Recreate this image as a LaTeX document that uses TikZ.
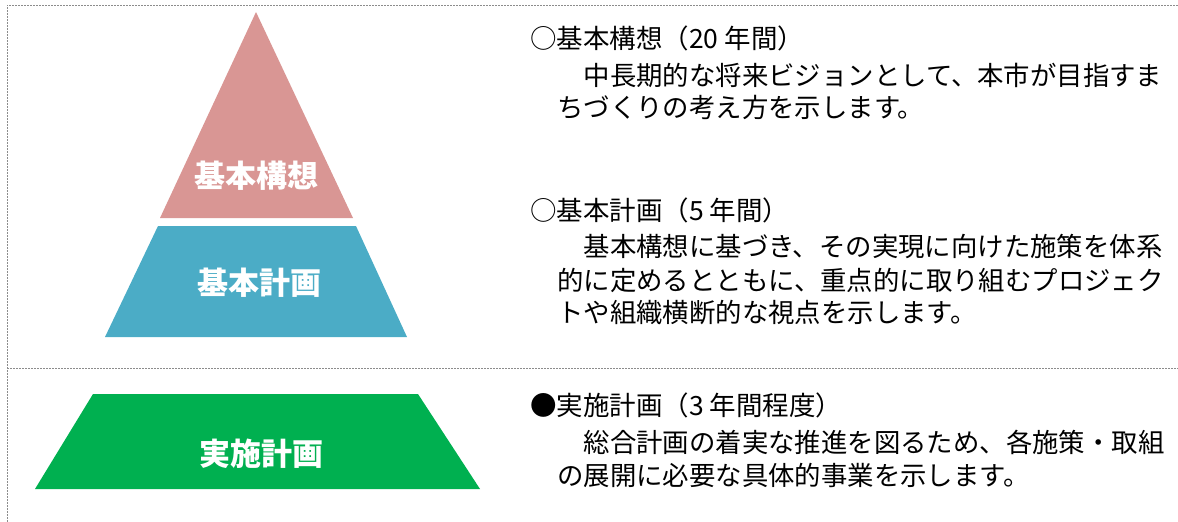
\documentclass[tikz,border=0pt]{standalone}
\usepackage{fontspec}
\setmainfont{Noto Sans CJK JP}
\definecolor{pinkc}{HTML}{D99694}
\definecolor{bluec}{HTML}{4BACC6}
\definecolor{greenc}{HTML}{00B050}
\definecolor{framec}{HTML}{8C8C8C}
\tikzset{
  head/.style={anchor=west, inner sep=0pt, font=\fontsize{26.5}{30}\selectfont},
  bodyline/.style={anchor=west, inner sep=0pt, font=\fontsize{26.4}{33}\selectfont},
  lbl/.style={text=white, inner sep=0pt, font=\bfseries\fontsize{31}{36}\selectfont},
  frameline/.style={draw=framec, line width=0.8pt, dash pattern=on 2pt off 1pt},
}
\begin{document}
\begin{tikzpicture}[x=1pt,y=-1pt]
\useasboundingbox (0,0) rectangle (1178,522);
% frame
\coordinate (tl) at (7,5);
\coordinate (tr) at (1178,5);
\coordinate (bl) at (7,522);
\coordinate (sl) at (7,368);
\coordinate (sr) at (1178,368);
\draw[frameline] (bl) -- (tl) -- (tr);
\draw[frameline] (sl) -- (sr);
% shapes
\fill[pinkc] (256,12) -- (353,218) -- (160,218) -- cycle;
\fill[bluec] (158,226) -- (356,226) -- (407,337) -- (105,337) -- cycle;
\fill[greenc] (93,394) -- (418,394) -- (480,489) -- (35,489) -- cycle;
\node[lbl] (l1) at (256,176) {基本構想};
\node[lbl] (l2) at (259,283) {基本計画};
\node[lbl] (l3) at (261,454) {実施計画};
% texts
\node[head] (h1) at (530,38) {○基本構想（20 年間）};
\node[bodyline] (b11) at (557,75) {　中長期的な将来ビジョンとして、本市が目指すま};
\node[bodyline] (b12) at (557,107) {ちづくりの考え方を示します。};
\node[head] (h2) at (530,210) {○基本計画（5 年間）};
\node[bodyline] (b21) at (557,246) {　基本構想に基づき、その実現に向けた施策を体系};
\node[bodyline] (b22) at (557,280) {的に定めるとともに、重点的に取り組むプロジェク};
\node[bodyline] (b23) at (557,313) {トや組織横断的な視点を示します。};
\node[head] (h3) at (530,405) {●実施計画（3 年間程度）};
\node[bodyline] (b31) at (557,442) {　総合計画の着実な推進を図るため、各施策・取組};
\node[bodyline] (b32) at (557,475) {の展開に必要な具体的事業を示します。};
\end{tikzpicture}
\end{document}
